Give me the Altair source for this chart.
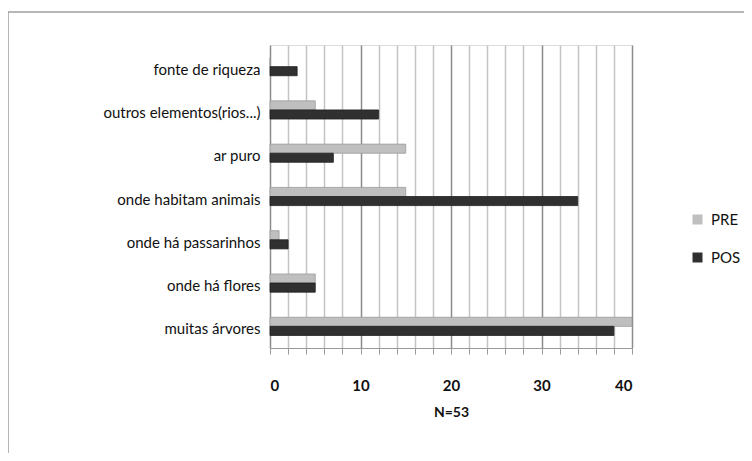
import altair as alt
import pandas as pd

categories = [
    "fonte de riqueza",
    "outros elementos(rios...)",
    "ar puro",
    "onde habitam animais",
    "onde há passarinhos",
    "onde há flores",
    "muitas árvores",
]
pre_values = [0, 5, 15, 15, 1, 5, 40]
pos_values = [3, 12, 7, 34, 2, 5, 38]
series = ["PRE", "POS"]
colors = ["#bfbfbf", "#303030"]
x_ticks = list(range(0, 41, 2))

rows = []
for c, a, b in zip(categories, pre_values, pos_values):
    rows.append({"categoria": c, "serie": "PRE", "valor": a})
    rows.append({"categoria": c, "serie": "POS", "valor": b})
df = pd.DataFrame(rows)

FONT = "Lato"

bars = alt.Chart(df).mark_bar(strokeWidth=0.8).encode(
    y=alt.Y(
        "categoria:N",
        sort=categories,
        scale=alt.Scale(paddingInner=0.58, paddingOuter=0.29),
        axis=alt.Axis(
            title=None,
            ticks=False,
            domain=False,
            labelFont=FONT,
            labelFontSize=15,
            labelColor="#111111",
            labelPadding=10,
            labelOffset=3,
            labelLimit=300,
        ),
    ),
    yOffset=alt.YOffset("serie:N", sort=series),
    x=alt.X(
        "valor:Q",
        scale=alt.Scale(domain=[0, 40], nice=False),
        axis=alt.Axis(
            title="N=53",
            values=x_ticks,
            labelExpr="datum.value % 10 == 0 ? datum.label : ''",
            labelFont=FONT,
            labelFontSize=15,
            labelFontWeight="bold",
            labelColor="#111111",
            labelPadding=24,
            titleFont=FONT,
            titleFontSize=14,
            titleFontWeight="bold",
            titleColor="#111111",
            titlePadding=12,
            grid=True,
            gridColor={"condition": {"test": "datum.value % 10 === 0", "value": "#8c8c8c"}, "value": "#c4c4c4"},
            gridWidth=1.5,
            domainColor="#9a9a9a",
            tickColor="#9a9a9a",
            tickSize=6,
        ),
    ),
    color=alt.Color(
        "serie:N",
        sort=series,
        scale=alt.Scale(domain=series, range=colors),
        legend=alt.Legend(
            title=None,
            orient="none",
            legendX=420,
            legendY=167,
            symbolType="square",
            symbolSize=100,
            symbolStrokeWidth=0,
            labelFont=FONT,
            labelFontSize=15,
            labelColor="#111111",
            rowPadding=22,
            labelOffset=6,
        ),
    ),
    stroke=alt.Stroke(
        "serie:N",
        sort=series,
        scale=alt.Scale(domain=series, range=["#9a9a9a", "#202020"]),
        legend=None,
    ),
)

frame = alt.Chart(pd.DataFrame({"k": [0]})).mark_rect(
    fill=None, stroke="#a0a0a0", strokeWidth=1.5
).encode(
    x=alt.value(-262), x2=alt.value(520), y=alt.value(-33), y2=alt.value(460)
)

chart = alt.layer(frame, bars).properties(
    width=362,
    height=303,
    autosize=alt.AutoSizeParams(type="none"),
    padding={"left": 262, "top": 37, "right": 112, "bottom": 105},
).configure_view(stroke=None).configure(background="white")

chart.save("out.html", embed_options={"renderer": "svg", "actions": False})
